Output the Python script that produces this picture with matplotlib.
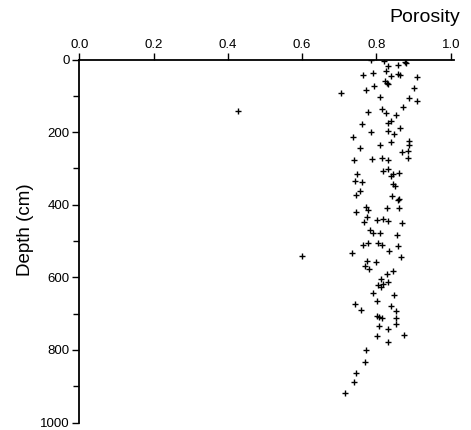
import matplotlib.pyplot as plt
from matplotlib.ticker import MultipleLocator

# porosity vs depth (cm)
porosity = [0.785, 0.820, 0.877, 0.880, 0.832, 0.857, 0.765, 0.792, 0.826, 0.839,
            0.859, 0.864, 0.908, 0.704, 0.772, 0.793, 0.823, 0.828, 0.832, 0.902,
            0.810, 0.887, 0.908, 0.778, 0.815, 0.826, 0.871, 0.853, 0.762, 0.832,
            0.838, 0.863, 0.785, 0.831, 0.847, 0.737, 0.888, 0.888, 0.839, 0.810,
            0.757, 0.868, 0.885, 0.740, 0.788, 0.814, 0.832, 0.886, 0.747, 0.817,
            0.832, 0.839, 0.844, 0.862, 0.743, 0.761, 0.844, 0.850, 0.745, 0.757,
            0.842, 0.860, 0.858, 0.771, 0.777, 0.744, 0.828, 0.860, 0.775, 0.767,
            0.802, 0.819, 0.831, 0.870, 0.783, 0.790, 0.810, 0.855, 0.763, 0.778,
            0.803, 0.814, 0.858, 0.734, 0.834, 0.865, 0.775, 0.798, 0.768, 0.779,
            0.844, 0.829, 0.812, 0.832, 0.805, 0.812, 0.819, 0.790, 0.847, 0.801,
            0.742, 0.758, 0.839, 0.853, 0.801, 0.808, 0.814, 0.854, 0.808, 0.853,
            0.832, 0.801, 0.875, 0.832, 0.771, 0.770, 0.744, 0.739, 0.716,
            0.426, 0.600]
depth = [1, 3, 6, 10, 17, 15, 43, 38, 31, 45,
         41, 43, 47, 93, 84, 73, 59, 64, 68, 78,
         104, 105, 113, 145, 137, 147, 130, 153, 178, 174,
         169, 188, 201, 197, 205, 214, 224, 236, 226, 236,
         244, 254, 251, 276, 274, 271, 277, 272, 315, 308,
         301, 321, 315, 313, 335, 338, 342, 349, 372, 362,
         377, 384, 386, 406, 415, 419, 408, 410, 435, 448,
         442, 439, 445, 450, 470, 479, 479, 483, 510, 505,
         506, 511, 515, 534, 528, 543, 555, 558, 568, 578,
         583, 591, 606, 614, 621, 626, 619, 644, 649, 664,
         674, 690, 678, 693, 706, 709, 713, 711, 734, 729,
         742, 763, 760, 778, 799, 833, 864, 889, 919,
         141, 540]

x_ticks = [0.0, 0.2, 0.4, 0.6, 0.8, 1.0]
y_ticks = [0, 200, 400, 600, 800, 1000]

plt.rcParams['font.family'] = ['Liberation Sans', 'DejaVu Sans']

fig = plt.figure(figsize=(4.71, 4.30), dpi=100)
ax = fig.add_axes([0.1684, 0.0174, 0.7964, 0.8442])

ax.plot(porosity, depth, linestyle='none', marker='+', color='black',
        markersize=4, markeredgewidth=1.0)

ax.set_xlim(0, 1.01)
ax.set_ylim(1000, 0)

ax.xaxis.tick_top()
ax.set_xticks(x_ticks)
ax.set_xticklabels([f'{v:.1f}' for v in x_ticks])
ax.set_yticks(y_ticks)
ax.yaxis.set_minor_locator(MultipleLocator(100))

ax.tick_params(axis='x', direction='out', length=5, width=1, pad=1, labelsize=9.5)
ax.tick_params(axis='y', which='major', direction='out', length=5, width=1, pad=2, labelsize=9.5)
ax.tick_params(axis='y', which='minor', direction='out', length=4, width=1)

ax.spines['right'].set_visible(False)
ax.spines['bottom'].set_visible(False)
ax.spines['left'].set_linewidth(1.3)
ax.spines['top'].set_linewidth(1.3)

ax.set_ylabel('Depth (cm)', fontsize=13.5)
ax.yaxis.set_label_coords(-0.12, 0.53)
fig.text(0.977, 0.94, 'Porosity', fontsize=14, ha='right', va='bottom')

fig.savefig('out.png', dpi=100)
